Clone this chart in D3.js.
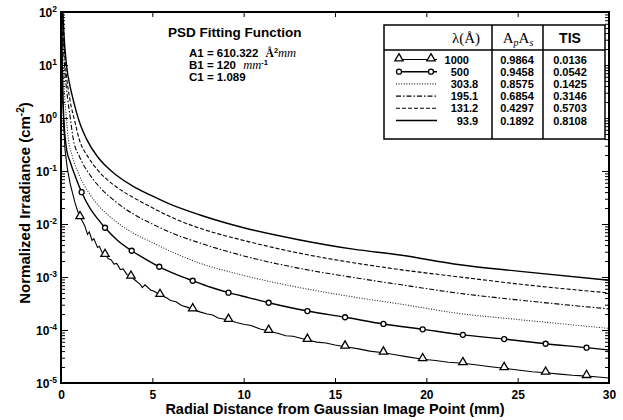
<!DOCTYPE html>
<html>
<head>
<meta charset="utf-8">
<script src="https://cdn.jsdelivr.net/npm/d3@7"></script>
<style>
body { margin: 0; background: #fff; }
svg { display: block; font-family: "Liberation Sans", Arial, sans-serif; }
</style>
</head>
<body>
<div id="chart"></div>
<script>
// axis ticks
var xTicks = [0, 5, 10, 15, 20, 25, 30];
var yExps = [2, 1, 0, -1, -2, -3, -4, -5];

// curves: [radial distance mm, irradiance cm^-2]
var s939 = [[0.1,110],[0.15,45],[0.3,10],[0.5,3.9],[0.67,2.2],[1.0,0.86],[1.4,0.40],[2.0,0.186],[2.5,0.12],[3.0,0.085],[4.0,0.050],[4.87,0.0355],[6.0,0.0234],[7.61,0.0148],[10,0.0085],[13.08,0.0050],[16,0.00335],[18.55,0.0026],[21.84,0.0017],[25,0.00129],[30,0.00087]];
var s1312 = [[0.07,120],[0.12,45],[0.25,9.5],[0.49,2.2],[0.75,0.88],[1.01,0.385],[1.5,0.18],[2.0,0.105],[3.0,0.051],[4.0,0.031],[4.87,0.0214],[6.24,0.0125],[7.61,0.0083],[10,0.0049],[13.08,0.0028],[16,0.00186],[18.55,0.00138],[21.84,0.0010],[25,0.00074],[30,0.0005]];
var s1951 = [[0.06,110],[0.1,40],[0.2,9],[0.37,2.2],[0.5,1.05],[0.68,0.385],[1.0,0.19],[1.5,0.093],[2.0,0.055],[3.0,0.0263],[4.0,0.0151],[4.87,0.0105],[6.24,0.0064],[7.61,0.00437],[10,0.0025],[13.08,0.00145],[16,0.00098],[18.55,0.00072],[21.84,0.00049],[25,0.00037],[30,0.00025]];
var s3038 = [[0.04,120],[0.05,76],[0.08,25],[0.12,9.3],[0.22,2.0],[0.3,0.95],[0.41,0.385],[0.6,0.2],[1.0,0.083],[1.5,0.04],[2.0,0.0234],[3.0,0.0112],[4.0,0.0066],[4.87,0.0047],[6.24,0.0028],[7.61,0.00182],[10,0.00107],[13.08,0.00063],[16,0.00042],[18.55,0.00031],[21.84,0.000204],[25,0.000158],[30,0.000107]];
var s500 = [[0.03,110],[0.06,15],[0.1,3.0],[0.15,1.0],[0.22,0.45],[0.31,0.25],[0.5,0.15],[0.75,0.085],[1.13,0.0398],[1.6,0.0195],[2.0,0.0126],[2.41,0.0085],[3.1,0.0049],[3.87,0.00313],[4.6,0.0022],[5.38,0.00156],[6.3,0.00112],[7.21,0.00085],[8.2,0.00064],[9.17,0.000506],[10.3,0.000405],[11.37,0.000327],[12.4,0.000272],[13.49,0.000228],[15.55,0.000174],[17.65,0.00013],[19.8,0.000103],[22.0,0.000081],[24.26,0.0000675],[26.53,0.000055],[28.77,0.0000465],[30,0.000042]];
var s1000 = [[0.03,110],[0.06,12],[0.1,2.2],[0.15,0.7],[0.22,0.25],[0.35,0.11],[0.5,0.058],[0.77,0.025],[0.9,0.018],[1.04,0.0134],[1.18,0.0112],[1.3,0.0092],[1.45,0.0064],[1.55,0.0071],[1.7,0.0049],[1.8,0.0053],[2.0,0.0036],[2.1,0.0038],[2.25,0.0029],[2.41,0.0026],[2.6,0.0022],[2.75,0.0021],[2.9,0.00175],[3.05,0.0018],[3.25,0.00138],[3.4,0.00142],[3.6,0.00112],[3.83,0.00101],[4.1,0.00085],[4.35,0.00072],[4.45,0.00063],[4.6,0.00071],[4.9,0.00057],[5.1,0.00054],[5.42,0.000457],[5.8,0.0004],[6.0,0.00036],[6.3,0.00034],[6.6,0.00029],[6.9,0.00027],[7.21,0.000245],[7.6,0.00022],[8.0,0.0002],[8.3,0.000192],[8.6,0.000168],[9.17,0.000155],[9.6,0.000138],[10.0,0.000128],[10.4,0.000122],[10.9,0.000104],[11.37,0.000096],[11.9,0.000086],[12.3,0.000078],[12.7,0.000076],[13.49,0.000065],[14.0,0.000059],[14.5,0.000057],[15.0,0.000052],[15.55,0.0000484],[16.3,0.000044],[16.9,0.00004],[17.65,0.0000373],[18.3,0.000034],[18.9,0.0000315],[19.8,0.000028],[20.5,0.0000265],[21.2,0.0000246],[22.0,0.0000236],[22.8,0.0000218],[23.5,0.0000203],[24.26,0.000019],[25.0,0.0000176],[25.8,0.0000163],[26.53,0.0000156],[27.3,0.0000147],[28.0,0.000014],[28.77,0.0000135],[29.4,0.000013],[30,0.0000124]];

// where the symbols sit on the two marked curves
var markX500 = [1.13,2.41,3.87,5.38,7.21,9.17,11.37,13.49,15.55,17.65,19.8,22.0,24.26,26.53,28.77];
var markX1000 = [1.04,2.41,3.83,5.42,7.21,9.17,11.37,13.49,15.55,17.65,19.8,22.0,24.26,26.53,28.77];

// legend table
var lambdas = ["1000", "500", "303.8", "195.1", "131.2", "93.9"];
var apas = ["0.9864", "0.9458", "0.8575", "0.6854", "0.4297", "0.1892"];
var tis = ["0.0136", "0.0542", "0.1425", "0.3146", "0.5703", "0.8108"];

var series = [
    { data: s1000, dash: null, w: 1.1, mark: "tri", marks: markX1000 },
    { data: s500, dash: null, w: 1.4, mark: "circ", marks: markX500 },
    { data: s3038, dash: "1,1.6", w: 1.1, mark: null },
    { data: s1951, dash: "5,2,1.5,2", w: 1.1, mark: null },
    { data: s1312, dash: "4,2", w: 1.1, mark: null },
    { data: s939, dash: null, w: 1.4, mark: null }
];

var widthx = 623, heighty = 420;
var margin = {top: 12, right: 14, bottom: 37, left: 61},
    width = widthx - margin.left - margin.right,
    height = heighty - margin.top - margin.bottom;

var svg = d3.select("#chart").append("svg")
    .attr("width", widthx)
    .attr("height", heighty);

var x = d3.scaleLinear().domain([0, 30]).range([margin.left, margin.left + width]);
var y = d3.scaleLog().domain([1e-5, 1e2]).range([margin.top + height, margin.top]);

function isMajor(d) {
    var l = Math.log10(d);
    return Math.abs(l - Math.round(l)) < 1e-9;
}

svg.append("clipPath").attr("id", "clip")
    .append("rect")
    .attr("x", margin.left).attr("y", margin.top)
    .attr("width", width).attr("height", height);

var plot = svg.append("g").attr("clip-path", "url(#clip)");

var line = d3.line()
    .x(function(d) { return x(d[0]); })
    .y(function(d) { return y(d[1]); });

series.forEach(function(s) {
    plot.append("path")
        .datum(s.data)
        .attr("fill", "none")
        .attr("stroke", s.dash === "1,1.6" ? "#222" : "#000")
        .attr("stroke-width", s.w)
        .attr("stroke-dasharray", s.dash)
        .attr("d", line.curve(s.mark === "tri" ? d3.curveLinear : d3.curveMonotoneX));
    if (s.mark) {
        var pts = s.data.filter(function(d) { return s.marks.indexOf(d[0]) >= 0; });
        if (s.mark === "tri") {
            plot.selectAll(null).data(pts).enter().append("path")
                .attr("d", d3.symbol(d3.symbolTriangle).size(30))
                .attr("transform", function(d) { return "translate(" + x(d[0]) + "," + (y(d[1]) - 1) + ")"; })
                .attr("fill", "#fff").attr("stroke", "#000").attr("stroke-width", 1.3);
        } else {
            plot.selectAll(null).data(pts).enter().append("circle")
                .attr("cx", function(d) { return x(d[0]); })
                .attr("cy", function(d) { return y(d[1]); })
                .attr("r", 2.5)
                .attr("fill", "#fff").attr("stroke", "#000").attr("stroke-width", 1.3);
        }
    }
});

// axes, ticks pointing inward
var gB = svg.append("g").attr("transform", "translate(0," + (margin.top + height) + ")")
    .call(d3.axisBottom(x).tickValues(xTicks).tickSize(-5).tickPadding(7));
var gT = svg.append("g").attr("transform", "translate(0," + margin.top + ")")
    .call(d3.axisTop(x).tickValues(xTicks).tickSize(-5).tickFormat(""));
var gL = svg.append("g").attr("transform", "translate(" + margin.left + ",0)")
    .call(d3.axisLeft(y).tickValues(y.ticks()).tickSize(-4).tickFormat(""));
var gR = svg.append("g").attr("transform", "translate(" + (margin.left + width) + ",0)")
    .call(d3.axisRight(y).tickValues(y.ticks()).tickSize(-4).tickFormat(""));
[gB, gT, gL, gR].forEach(function(g) {
    g.select(".domain").remove();
    g.selectAll(".tick line").attr("stroke", "#000").attr("stroke-width", 1);
});
gL.selectAll(".tick line").attr("x2", function(d) { return isMajor(d) ? 7 : 4; });
gR.selectAll(".tick line").attr("x2", function(d) { return isMajor(d) ? -7 : -4; });
gB.selectAll(".tick text")
    .attr("font-family", "Liberation Sans, Arial, sans-serif")
    .attr("font-size", 12).attr("font-weight", "bold").attr("fill", "#000");

// y tick labels 10^n
yExps.forEach(function(e) {
    var t = svg.append("text")
        .attr("x", margin.left - 4)
        .attr("y", y(Math.pow(10, e)) + 5)
        .attr("text-anchor", "end")
        .attr("font-size", 12).attr("font-weight", "bold");
    t.append("tspan").text("10");
    t.append("tspan").attr("dy", -5).attr("font-size", 8.5).text(e);
});

// frame
svg.append("rect")
    .attr("x", margin.left).attr("y", margin.top)
    .attr("width", width).attr("height", height)
    .attr("fill", "none").attr("stroke", "#000").attr("stroke-width", 2);

// axis titles
svg.append("text")
    .attr("x", 335).attr("y", 414)
    .attr("text-anchor", "middle")
    .attr("font-size", 14.5).attr("font-weight", "bold")
    .text("Radial Distance from Gaussian Image Point (mm)");

var yt = svg.append("text")
    .attr("transform", "translate(30,203) rotate(-90)")
    .attr("text-anchor", "middle")
    .attr("font-size", 15).attr("font-weight", "bold");
yt.append("tspan").text("Normalized Irradiance (cm");
yt.append("tspan").attr("dy", -6).attr("font-size", 10).text("-2");
yt.append("tspan").attr("dy", 6).text(")");

// PSD annotation
svg.append("text").attr("x", 168).attr("y", 37)
    .attr("font-size", 13.5).attr("font-weight", "bold")
    .text("PSD Fitting Function");
var a1 = svg.append("text").attr("x", 189).attr("y", 57)
    .attr("font-size", 11.5).attr("font-weight", "bold");
a1.append("tspan").text("A1 = 610.322 ");
a1.append("tspan").attr("dx", 4).attr("font-family", "Liberation Serif, serif").text("Å");
a1.append("tspan").attr("dy", -4).attr("font-size", 7.5).text("2");
a1.append("tspan").attr("dy", 4).attr("font-family", "Liberation Serif, serif")
    .attr("font-style", "italic").attr("font-weight", "normal").attr("font-size", 12.5).text("mm");
var b1 = svg.append("text").attr("x", 189).attr("y", 69)
    .attr("font-size", 11.5).attr("font-weight", "bold");
b1.append("tspan").text("B1 = 120 ");
b1.append("tspan").attr("dx", 4).attr("font-family", "Liberation Serif, serif")
    .attr("font-style", "italic").attr("font-weight", "normal").attr("font-size", 12.5).text("mm");
b1.append("tspan").attr("dy", -4).attr("font-size", 7.5).text("-1");
svg.append("text").attr("x", 189).attr("y", 81)
    .attr("font-size", 11.5).attr("font-weight", "bold")
    .text("C1 = 1.089");

// legend table
var tb = {left: 384, right: 605, top: 25, head: 50, bottom: 139, c1: 492, c2: 543};
var tg = svg.append("g");
tg.append("rect")
    .attr("x", tb.left).attr("y", tb.top)
    .attr("width", tb.right - tb.left).attr("height", tb.bottom - tb.top)
    .attr("fill", "#fff").attr("stroke", "#000").attr("stroke-width", 1.5);
tg.append("line").attr("x1", tb.left).attr("x2", tb.right).attr("y1", tb.head).attr("y2", tb.head)
    .attr("stroke", "#000").attr("stroke-width", 1.5);
[tb.c1, tb.c2].forEach(function(cx) {
    tg.append("line").attr("x1", cx).attr("x2", cx).attr("y1", tb.top).attr("y2", tb.bottom)
        .attr("stroke", "#000").attr("stroke-width", 1.5);
});

var h1 = tg.append("text").attr("x", 466).attr("y", 43).attr("text-anchor", "middle")
    .attr("font-family", "Liberation Serif, serif").attr("font-size", 15);
h1.text("λ(Å)");
var h2 = tg.append("text").attr("x", 518).attr("y", 43).attr("text-anchor", "middle")
    .attr("font-family", "Liberation Serif, serif").attr("font-size", 15);
h2.append("tspan").text("A");
h2.append("tspan").attr("dy", 3).attr("font-size", 10).attr("font-style", "italic").text("p");
h2.append("tspan").attr("dy", -3).text("A");
h2.append("tspan").attr("dy", 3).attr("font-size", 10).attr("font-style", "italic").text("s");
tg.append("text").attr("x", 570).attr("y", 43).attr("text-anchor", "middle")
    .attr("font-size", 14).attr("font-weight", "bold").text("TIS");

var rowY = d3.scaleLinear().domain([0, 5]).range([63.5, 124.5]);
lambdas.forEach(function(lam, i) {
    var yy = rowY(i);
    var s = series[i];
    var parts = lam.split(".");
    tg.append("text").attr("x", 469).attr("y", yy).attr("text-anchor", "end")
        .attr("font-size", 11).attr("font-weight", "bold").text(parts[0]);
    if (parts.length > 1) {
        tg.append("text").attr("x", 469).attr("y", yy)
            .attr("font-size", 11).attr("font-weight", "bold").text("." + parts[1]);
    }
    tg.append("text").attr("x", 517).attr("y", yy).attr("text-anchor", "middle")
        .attr("font-size", 11).attr("font-weight", "bold").text(apas[i]);
    tg.append("text").attr("x", 570).attr("y", yy).attr("text-anchor", "middle")
        .attr("font-size", 11).attr("font-weight", "bold").text(tis[i]);
    var ly = yy - 4;
    tg.append("line").attr("x1", 396).attr("x2", 437).attr("y1", ly).attr("y2", ly)
        .attr("stroke", s.dash === "1,1.6" ? "#222" : "#000")
        .attr("stroke-width", s.w).attr("stroke-dasharray", s.dash);
    if (s.mark === "tri") {
        tg.selectAll(null).data([399, 431]).enter().append("path")
            .attr("d", d3.symbol(d3.symbolTriangle).size(30))
            .attr("transform", function(d) { return "translate(" + d + "," + (ly - 1) + ")"; })
            .attr("fill", "#fff").attr("stroke", "#000").attr("stroke-width", 1.3);
    } else if (s.mark === "circ") {
        tg.selectAll(null).data([399, 431]).enter().append("circle")
            .attr("cx", function(d) { return d; }).attr("cy", ly).attr("r", 2.5)
            .attr("fill", "#fff").attr("stroke", "#000").attr("stroke-width", 1.3);
    }
});
</script>
</body>
</html>
